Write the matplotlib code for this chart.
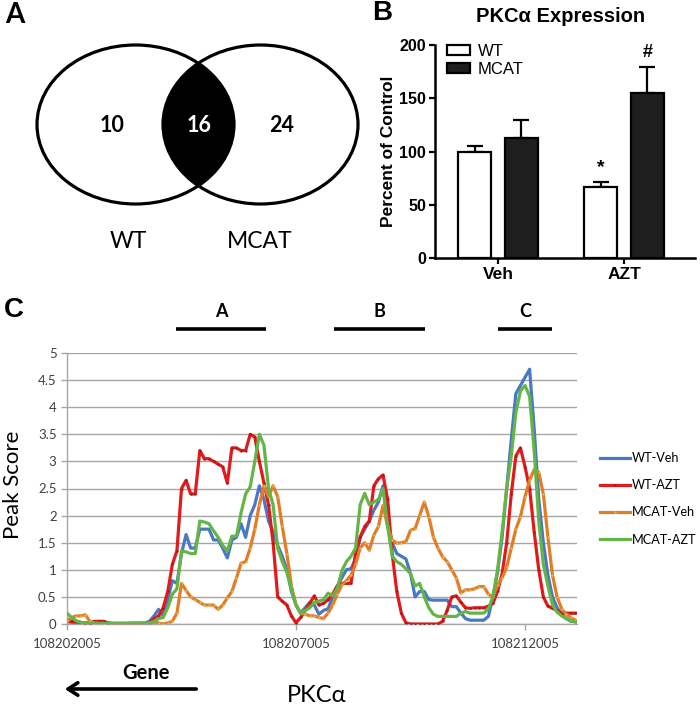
import numpy as np
import matplotlib
matplotlib.use('Agg')
import matplotlib.pyplot as plt
from matplotlib.patches import Ellipse
from matplotlib.ticker import FuncFormatter

# ---------------- Panel A data ----------------
venn_counts = [10, 16, 24]
venn_sets = ['WT', 'MCAT']

# ---------------- Panel B data ----------------
bar_groups = ['Veh', 'AZT']
bar_series = ['WT', 'MCAT']
wt_mean = [100, 66.5]
wt_err = [5.5, 4.5]
mcat_mean = [113, 155]
mcat_err = [17, 24]
wt_marks = ['', '*']
mcat_marks = ['', '#']

# ---------------- Panel C data ----------------
pos_start = 108202005
pos_step = 100
xtick_pos = [108202005, 108207005, 108212005]
wt_veh = [0.05, 0.03, 0.02, 0.01, 0.01, 0.01, 0.01, 0.01, 0.01, 0.01,
          0.01, 0.01, 0.01, 0.01, 0.01, 0.01, 0.01, 0.02,
          0.05, 0.15, 0.27, 0.15, 0.45, 0.80, 0.75, 1.30, 1.65, 1.40,
          1.40, 1.75, 1.75, 1.75, 1.55, 1.55, 1.40, 1.22, 1.55, 1.60,
          1.85, 1.60, 2.00, 2.20, 2.55, 2.30, 1.90, 1.70, 1.45, 1.25,
          1.00, 0.60, 0.35, 0.20, 0.30, 0.40, 0.35, 0.18, 0.25, 0.28,
          0.50, 0.70, 0.85, 1.00, 1.02, 1.20, 1.60, 1.75, 1.90, 2.10,
          2.25, 2.55, 1.90, 1.50, 1.30, 1.25, 1.20, 0.93, 0.50, 0.60,
          0.60, 0.45, 0.44, 0.44, 0.44, 0.44, 0.32, 0.32, 0.20, 0.10,
          0.07, 0.07, 0.07, 0.07, 0.14, 0.50, 0.95, 1.60, 2.50, 3.40,
          4.25, 4.40, 4.55, 4.70, 3.60, 2.30, 1.50, 0.90, 0.50, 0.30,
          0.18, 0.10, 0.05, 0.04]
wt_azt = [0.05, 0.05, 0.05, 0.03, 0.02, 0.02, 0.05, 0.05, 0.05, 0.02,
          0.01, 0.01, 0.01, 0.01, 0.01, 0.01, 0.01, 0.01,
          0.02, 0.10, 0.15, 0.30, 0.60, 1.10, 1.35, 2.50, 2.65, 2.40,
          2.40, 3.20, 3.05, 3.05, 3.00, 2.95, 2.90, 2.60, 3.25, 3.25,
          3.20, 3.20, 3.50, 3.45, 3.00, 2.60, 2.20, 1.50, 0.50, 0.42,
          0.35, 0.15, 0.02, 0.12, 0.25, 0.38, 0.52, 0.35, 0.38, 0.45,
          0.55, 0.70, 0.75, 0.75, 0.75, 1.30, 1.60, 1.80, 1.90, 2.55,
          2.68, 2.75, 2.30, 1.30, 0.60, 0.20, 0.02, 0.00, 0.00, 0.00,
          0.00, 0.00, 0.00, 0.00, 0.05, 0.25, 0.50, 0.52, 0.40, 0.30,
          0.29, 0.30, 0.30, 0.30, 0.33, 0.38, 0.60, 0.93, 1.50, 2.40,
          3.10, 3.25, 2.90, 2.50, 1.70, 1.00, 0.50, 0.33, 0.29, 0.25,
          0.20, 0.20, 0.20, 0.20]
mcat_veh = [0.05, 0.12, 0.15, 0.15, 0.17, 0.05, 0.02, 0.01, 0.01, 0.01,
            0.01, 0.01, 0.01, 0.01, 0.02, 0.02, 0.02, 0.02,
            0.02, 0.03, 0.02, 0.00, 0.02, 0.05, 0.20, 0.75, 0.62, 0.50,
            0.45, 0.40, 0.35, 0.35, 0.35, 0.27, 0.35, 0.48, 0.60, 0.85,
            1.12, 1.15, 1.40, 1.75, 2.20, 2.55, 2.35, 2.55, 2.35, 1.80,
            1.30, 0.70, 0.35, 0.20, 0.18, 0.15, 0.15, 0.12, 0.10, 0.20,
            0.35, 0.55, 0.72, 0.80, 0.90, 1.10, 1.40, 1.50, 1.36, 1.64,
            1.80, 2.19, 1.80, 1.55, 1.49, 1.50, 1.52, 1.73, 1.76, 2.00,
            2.25, 1.98, 1.60, 1.40, 1.24, 1.15, 1.00, 0.85, 0.57, 0.63,
            0.63, 0.65, 0.69, 0.69, 0.55, 0.50, 0.72, 0.85, 1.05, 1.40,
            1.75, 1.98, 2.35, 2.65, 2.85, 2.80, 2.40, 1.60, 0.90, 0.50,
            0.28, 0.18, 0.12, 0.07]
mcat_azt = [0.20, 0.12, 0.06, 0.03, 0.02, 0.01, 0.01, 0.01, 0.01, 0.01,
            0.01, 0.01, 0.01, 0.01, 0.01, 0.01, 0.01, 0.01,
            0.01, 0.05, 0.10, 0.12, 0.30, 0.55, 0.65, 1.35, 1.33, 1.30,
            1.30, 1.90, 1.88, 1.85, 1.72, 1.60, 1.45, 1.35, 1.62, 1.62,
            2.05, 2.40, 2.53, 3.00, 3.50, 3.30, 2.50, 2.20, 1.40, 1.15,
            0.95, 0.65, 0.35, 0.20, 0.25, 0.30, 0.40, 0.42, 0.45, 0.57,
            0.52, 0.65, 0.98, 1.15, 1.25, 1.40, 2.20, 2.41, 2.20, 2.25,
            2.30, 2.50, 1.80, 1.25, 1.15, 1.10, 1.02, 0.93, 0.70, 0.75,
            0.50, 0.30, 0.18, 0.14, 0.14, 0.14, 0.14, 0.14, 0.20, 0.23,
            0.20, 0.20, 0.20, 0.20, 0.28, 0.50, 1.00, 1.70, 2.50, 3.10,
            3.90, 4.30, 4.40, 4.20, 3.20, 1.90, 1.10, 0.70, 0.35, 0.22,
            0.15, 0.10, 0.06, 0.04]
series_names = ['WT-Veh', 'WT-AZT', 'MCAT-Veh', 'MCAT-AZT']
region_labels = ['A', 'B', 'C']
region_start = [108204385, 108207835, 108211415]
region_end = [108206350, 108209820, 108212595]

# ---------------- Figure ----------------
W, H = 700, 705
fig = plt.figure(figsize=(W / 100, H / 100), dpi=100)

SANS = ['Lato', 'Open Sans', 'DejaVu Sans']
ARIAL = ['Liberation Sans', 'DejaVu Sans']

ax_bg = fig.add_axes([0, 0, 1, 1])
ax_bg.set_xlim(0, W)
ax_bg.set_ylim(H, 0)
ax_bg.axis('off')
ax_bg.patch.set_alpha(0)

# Panel labels
ax_bg.text(15, 15, 'A', family=SANS, fontsize=20, fontweight='bold', ha='center', va='center')
ax_bg.text(382, 13, 'B', family=ARIAL, fontsize=20, fontweight='bold', ha='center', va='center')
ax_bg.text(14, 310, 'C', family=ARIAL, fontsize=20, fontweight='bold', ha='center', va='center')

# ---- Panel A: Venn ----
e_right = Ellipse((260.5, 124.5), 195, 159, fill=False, lw=2.3, ec='black')
e_left = Ellipse((135.5, 124.5), 197, 159, fill=False, lw=2.3, ec='black')
lens = Ellipse((135.5, 124.5), 197, 159, fc='black', ec='none')
ax_bg.add_patch(e_right)
ax_bg.add_patch(lens)
lens.set_clip_path(e_right)
ax_bg.add_patch(e_left)
for xc, cnt, col in zip([112, 199, 282], venn_counts, ['black', 'white', 'black']):
    ax_bg.text(xc, 126, str(cnt), family=SANS, fontsize=15.5, fontweight='bold',
               color=col, ha='center', va='center')
for xc, lab in zip([128, 260], venn_sets):
    ax_bg.text(xc, 242, lab, family=SANS, fontsize=16.5, ha='center', va='center')

# ---- Panel B: bar chart ----
axB = fig.add_axes([435 / W, 1 - 258 / H, 260 / W, 213 / H])
xg = np.arange(len(bar_groups))
off, bw = 0.185, 0.26
axB.bar(xg - off, wt_mean, bw, color='white', edgecolor='black', lw=1.6, zorder=3, label=bar_series[0])
axB.bar(xg + off, mcat_mean, bw, color='#1e1e1e', edgecolor='black', lw=1.6, zorder=3, label=bar_series[1])
axB.errorbar(xg - off, wt_mean, yerr=[np.zeros(2), wt_err], fmt='none', ecolor='black',
             elinewidth=1.6, capsize=5.5, capthick=1.6, zorder=2)
axB.errorbar(xg + off, mcat_mean, yerr=[np.zeros(2), mcat_err], fmt='none', ecolor='black',
             elinewidth=1.6, capsize=5.5, capthick=1.6, zorder=2)
for xs, m, e, mk in zip(xg - off, wt_mean, wt_err, wt_marks):
    if mk:
        axB.text(xs, m + e + 6, mk, family=ARIAL, fontsize=14, fontweight='bold', ha='center', va='bottom')
for xs, m, e, mk in zip(xg + off, mcat_mean, mcat_err, mcat_marks):
    if mk:
        axB.text(xs, m + e + 6, mk, family=ARIAL, fontsize=13, fontweight='bold', ha='center', va='bottom')
axB.set_xlim(-0.5, 1.563)
axB.set_ylim(0, 200)
axB.set_yticks([0, 50, 100, 150, 200])
axB.set_xticks(xg)
axB.set_xticklabels(bar_groups)
for s in ['top', 'right']:
    axB.spines[s].set_visible(False)
for s in ['left', 'bottom']:
    axB.spines[s].set_linewidth(1.8)
axB.tick_params(axis='both', width=1.6, length=4, labelsize=11.5, pad=2.5)
for lab in axB.get_xticklabels() + axB.get_yticklabels():
    lab.set_family(ARIAL)
    lab.set_fontweight('bold')
for lab in axB.get_xticklabels():
    lab.set_fontsize(12.5)
axB.set_ylabel('Percent of Control', family=ARIAL, fontsize=12.5, fontweight='bold')
axB.yaxis.set_label_coords(-0.15, 0.5)
ax_bg.text(561, 16, 'PKC\u03b1 Expression', family=ARIAL, fontsize=14.5, fontweight='bold',
           ha='center', va='center')
axB.legend(loc='upper left', bbox_to_anchor=(0.045, 1.005), frameon=False,
           prop={'family': ARIAL, 'size': 12}, handlelength=1.4, handleheight=0.55,
           labelspacing=0.2, borderpad=0, borderaxespad=0, handletextpad=0.45)

# ---- Panel C: line chart ----
axC = fig.add_axes([67 / W, 1 - 624 / H, 510 / W, 271 / H])
xpos = pos_start + pos_step * np.arange(len(wt_veh))
axC.plot(xpos, wt_veh, color='#4a78c2', lw=2.3, label=series_names[0], zorder=3)
axC.plot(xpos, wt_azt, color='#e11b1b', lw=2.3, marker='s', ms=1.4, mfc='#8e1a1a', mec='none',
         label=series_names[1], zorder=4)
axC.plot(xpos, mcat_veh, color='#e37d25', lw=2.3, marker='o', ms=1.6, mfc='#c9c46a', mec='none',
         label=series_names[2], zorder=5)
axC.plot(xpos, mcat_azt, color='#64b548', lw=2.3, label=series_names[3], zorder=6)
axC.set_xlim(pos_start, pos_start + 11135)
axC.set_ylim(0, 5)
axC.set_yticks(np.arange(0, 5.01, 0.5))
axC.yaxis.set_major_formatter(FuncFormatter(lambda v, p: f'{v:g}'))
axC.set_xticks(xtick_pos)
axC.set_xticklabels([str(v) for v in xtick_pos])
axC.grid(axis='y', color='#a6a6a6', lw=1.0, zorder=0)
for s in ['top', 'right']:
    axC.spines[s].set_visible(False)
for s in ['left', 'bottom']:
    axC.spines[s].set_color('#a6a6a6')
    axC.spines[s].set_linewidth(1.0)
axC.tick_params(axis='both', color='#a6a6a6', length=4, width=1.0, labelsize=9.5,
                labelcolor='#404040')
axC.tick_params(axis='x', pad=6)
for lab in axC.get_xticklabels() + axC.get_yticklabels():
    lab.set_family(SANS)
ax_bg.text(13, 485, 'Peak Score', family=SANS, fontsize=16, rotation=90, ha='center', va='center')
axC.legend(loc='upper left', bbox_to_anchor=((600 - 67) / 510, (624 - 452) / 271),
           bbox_transform=axC.transAxes, frameon=False, prop={'family': SANS, 'size': 9.1},
           handlelength=2.4, handletextpad=0.15, labelspacing=1.2, borderpad=0, borderaxespad=0)

tr = axC.get_xaxis_transform()
for lab, s, e in zip(region_labels, region_start, region_end):
    axC.plot([s, e], [1.089, 1.089], transform=tr, color='black', lw=2.6, clip_on=False,
             solid_capstyle='butt')
    axC.text((s + e) / 2, 1.152, lab, transform=tr, family=SANS, fontsize=13,
             fontweight='bold', ha='center', va='center')

# Gene arrow and PKCa label
ax_bg.annotate('', xy=(62, 689), xytext=(199, 689),
               arrowprops=dict(arrowstyle='->,head_length=0.7,head_width=0.45', lw=2.6, color='black'))
ax_bg.text(146, 673, 'Gene', family=SANS, fontsize=14.5, fontweight='bold', ha='center', va='center')
ax_bg.text(287, 695, 'PKC\u03b1', family=SANS, fontsize=17, ha='left', va='center')

fig.savefig('out.png', dpi=100)
